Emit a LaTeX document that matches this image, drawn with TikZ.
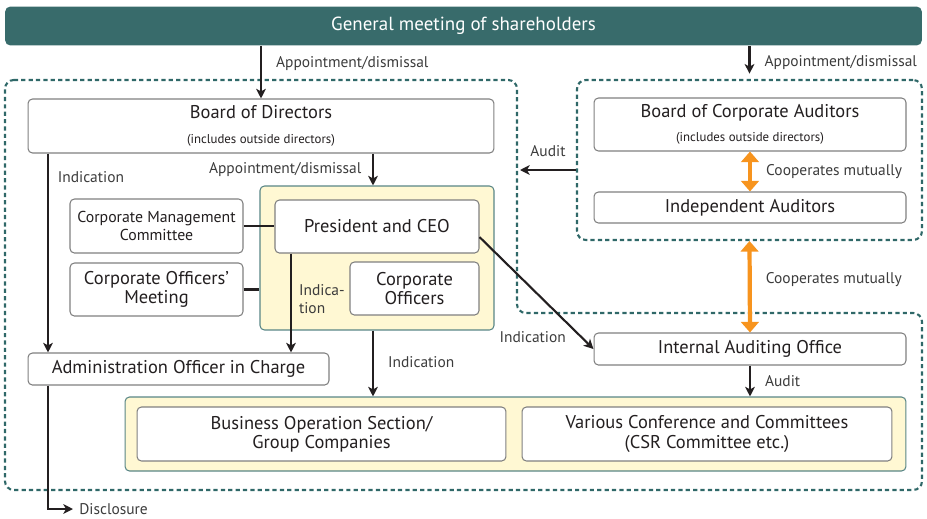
\documentclass[tikz,border=0pt]{standalone}
\usepackage{fontspec}
\setmainfont{PT Sans}
\usetikzlibrary{arrows.meta}
\definecolor{gmteal}{HTML}{386B6B}
\definecolor{zoneteal}{HTML}{2F6868}
\definecolor{paleyellow}{HTML}{FFF8D3}
\definecolor{cooporange}{HTML}{F7941E}
\definecolor{boxgray}{HTML}{808080}
\definecolor{ink}{HTML}{231F20}
\definecolor{labelgray}{HTML}{3C3C3C}

\begin{document}
\begin{tikzpicture}[x=0.02cm, y=-0.02cm,
    box/.style={draw=boxgray, fill=white, rounded corners=2.5pt, line width=0.6pt, align=center, inner sep=0pt, text=ink, font=\fontsize{10.5}{12}\selectfont},
    group/.style={draw=zoneteal!80, fill=paleyellow, rounded corners=2.5pt, line width=0.6pt, inner sep=0pt},
    zone/.style={draw=zoneteal, dash pattern=on 2.4pt off 1.8pt, line width=1.2pt, rounded corners=5pt},
    lbl/.style={text=labelgray, inner sep=0pt, font=\fontsize{8.8}{10}\selectfont},
    arr/.style={draw=ink, line width=1.2pt, -{Stealth[length=5.5pt, width=5.5pt, inset=1.5pt]}},
    link/.style={draw=ink, line width=1.2pt},
    coop/.style={draw=cooporange, line width=2.4pt, {Triangle[length=6pt, width=10pt]}-{Triangle[length=6pt, width=10pt]}}]
    \useasboundingbox (0,0) rectangle (927,518);
    \node[fill=gmteal, rounded corners=3pt, minimum width=18.34cm, minimum height=0.78cm, text=white, font=\fontsize{10.8}{13}\selectfont] (gm) at (463.5,26) {General meeting of shareholders};
    \draw[zone] (5,80) -- (517,80) -- (517,313) -- (922,313) -- (922,490) -- (5,490) -- cycle;
    \node[zone, minimum width=6.9cm, minimum height=3.2cm] (audzone) at (749.5,160) {};
    \node[group, minimum width=4.68cm, minimum height=2.88cm] (ceogroup) at (377,258) {};
    \node[group, minimum width=15.62cm, minimum height=1.48cm] (opgroup) at (515.5,434) {};
    \node[box, minimum width=9.32cm, minimum height=1.08cm] (bod) at (261,126) {Board of Directors\\[2pt]{\fontsize{7.3}{8}\selectfont (includes outside directors)}};
    \node[box, minimum width=4.08cm, minimum height=1.06cm] (ceo) at (377,226.5) {President and CEO};
    \node[box, minimum width=2.58cm, minimum height=1.06cm, font=\fontsize{10.5}{10.5}\selectfont] (officers) at (414.5,288.5) {Corporate\\Officers};
    \node[box, minimum width=3.46cm, minimum height=1.08cm, font=\fontsize{9}{10}\selectfont] (cmc) at (156.5,226) {Corporate Management\\Committee};
    \node[box, minimum width=3.46cm, minimum height=1.06cm, font=\fontsize{10.5}{11}\selectfont] (com) at (156.5,289.5) {Corporate Officers’\\Meeting};
    \node[box, minimum width=6.02cm, minimum height=0.64cm] (admin) at (178.5,369) {Administration Officer in Charge};
    \node[box, minimum width=7.38cm, minimum height=1.08cm, font=\fontsize{10.5}{11}\selectfont] (bos) at (321.5,434) {Business Operation Section/\\Group Companies};
    \node[box, minimum width=7.4cm, minimum height=1.08cm, font=\fontsize{10.5}{11}\selectfont] (conf) at (707,434) {Various Conference and Committees\\(CSR Committee etc.)};
    \node[box, minimum width=6.24cm, minimum height=0.64cm] (iao) at (750,349) {Internal Auditing Office};
    \node[box, minimum width=6.24cm, minimum height=1.06cm] (bca) at (750,124.5) {Board of Corporate Auditors\\[2pt]{\fontsize{7.3}{8}\selectfont (includes outside directors)}};
    \node[box, minimum width=6.24cm, minimum height=0.62cm] (ia) at (750,207.5) {Independent Auditors};
    \coordinate (auditend) at (520,170);
    \coordinate (disc) at (73,509);
    \draw[arr] (gm.south -| bod.north) to node[lbl, anchor=west, pos=0.33, xshift=8pt] {Appointment/dismissal} (bod.north);
    \draw[arr, shorten >=3pt] (gm.south -| audzone.north) to node[lbl, anchor=west, pos=0.5, xshift=8pt] {Appointment/dismissal} (audzone.north);
    \draw[arr] (bod.south -| 373,0) to node[lbl, anchor=east, pos=0.5, xshift=-6pt] {Appointment/dismissal} (ceogroup.north -| 373,0);
    \draw[arr] (bod.south -| 48,0) to node[lbl, anchor=west, pos=0.12, xshift=5pt] {Indication} (admin.north -| 48,0);
    \draw[link] (cmc.east) -- (cmc.east -| ceo.west);
    \draw[link] (com.east) -- (com.east -| ceogroup.west);
    \draw[arr] (ceo.south -| 291,0) to node[lbl, anchor=west, align=left, pos=0.46, xshift=4pt] {Indica-\\tion} (admin.north -| 291,0);
    \draw[arr] (ceogroup.south -| 373,0) to node[lbl, anchor=west, pos=0.48, xshift=8pt] {Indication} (opgroup.north -| 373,0);
    \draw[arr] ([yshift=-6pt]ceo.east) to node[lbl, anchor=east, pos=0.89, xshift=-8pt] {Indication} (iao.west);
    \draw[arr] (iao.south) to node[lbl, anchor=west, pos=0.5, xshift=8pt] {Audit} (opgroup.north -| iao.south);
    \draw[arr] (audzone.west |- auditend) to node[lbl, anchor=south, pos=0.5, yshift=7pt] {Audit} (auditend);
    \draw[coop] (bca.south) to node[lbl, anchor=west, pos=0.5, xshift=8pt] {Cooperates mutually} (ia.north);
    \draw[coop] (audzone.south) to node[lbl, anchor=west, pos=0.42, xshift=8pt] {Cooperates mutually} (iao.north);
    \draw[arr] (admin.south -| 48,0) |- node[lbl, anchor=west, pos=1, xshift=3pt] {Disclosure} (disc);
\end{tikzpicture}
\end{document}
